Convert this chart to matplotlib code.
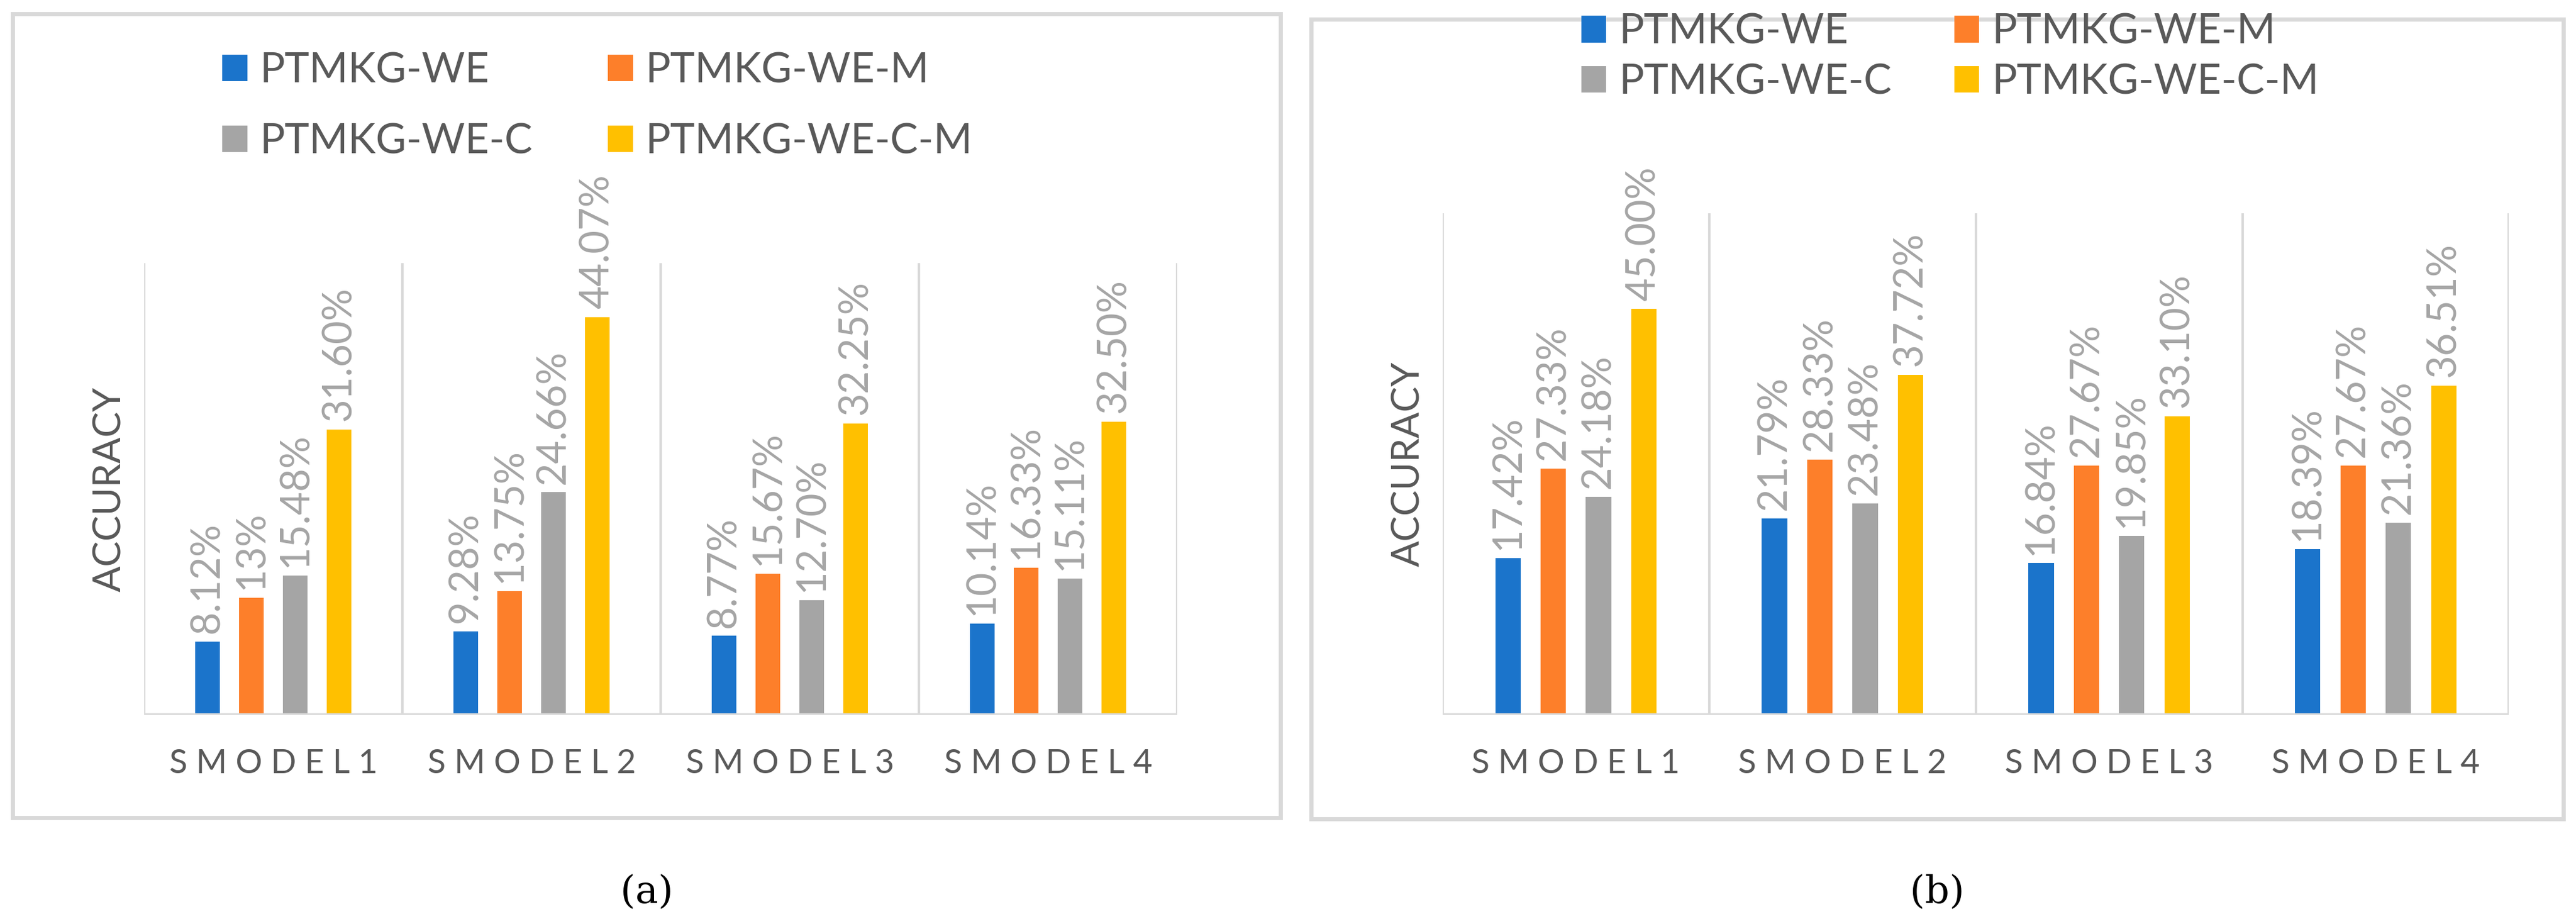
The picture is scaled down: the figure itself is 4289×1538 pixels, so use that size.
import matplotlib
matplotlib.use("Agg")
import matplotlib.pyplot as plt
import numpy as np
from matplotlib.patches import Rectangle

plt.rcParams["font.family"] = ["Lato", "DejaVu Sans"]

categories = ["SMODEL1", "SMODEL2", "SMODEL3", "SMODEL4"]
series = ["PTMKG-WE", "PTMKG-WE-M", "PTMKG-WE-C", "PTMKG-WE-C-M"]
vals_a = [
    [8.12, 9.28, 8.77, 10.14],
    [13.00, 13.75, 15.67, 16.33],
    [15.48, 24.66, 12.70, 15.11],
    [31.60, 44.07, 32.25, 32.50],
]
labels_a = [
    ["8.12%", "9.28%", "8.77%", "10.14%"],
    ["13%", "13.75%", "15.67%", "16.33%"],
    ["15.48%", "24.66%", "12.70%", "15.11%"],
    ["31.60%", "44.07%", "32.25%", "32.50%"],
]
vals_b = [
    [17.42, 21.79, 16.84, 18.39],
    [27.33, 28.33, 27.67, 27.67],
    [24.18, 23.48, 19.85, 21.36],
    [45.00, 37.72, 33.10, 36.51],
]
labels_b = [[f"{v:.2f}%" for v in row] for row in vals_b]

COLORS = ["#1B74CB", "#FD7F2A", "#A5A5A5", "#FFC000"]
LABEL_C = "#A5A5A5"
TEXT_C = "#595959"
GRID_C = "#D9D9D9"
OFFSETS = [-0.255, -0.085, 0.085, 0.255]


def spaced(s):
    return " ".join(s)


def panel(fig, rect, vals, labels, ymax, leg_xy, leg_spacing, col_spacing):
    ax = fig.add_axes(rect)
    x = np.arange(len(categories))
    handles = []
    for i, (row, lab) in enumerate(zip(vals, labels)):
        b = ax.bar(x + OFFSETS[i], row, width=0.095, color=COLORS[i], zorder=3)
        handles.append(b)
        for xi, v, t in zip(x + OFFSETS[i], row, lab):
            ax.annotate(t, (xi, v), xytext=(0, 10), textcoords="offset points",
                        rotation=90, ha="center", va="bottom",
                        fontsize=48, color=LABEL_C, annotation_clip=False)
    ax.set_xlim(-0.5, len(categories) - 0.5)
    ax.set_ylim(0, ymax)
    for b in np.arange(-0.5, len(categories), 1.0):
        ax.axvline(b, color=GRID_C, lw=3, zorder=1)
    ax.axhline(0, color=GRID_C, lw=4, zorder=4)
    for s in ax.spines.values():
        s.set_visible(False)
    ax.set_yticks([])
    ax.set_xticks(x)
    ax.set_xticklabels([spaced(c) for c in categories], fontsize=40, color=TEXT_C)
    ax.tick_params(axis="x", length=0, pad=40)
    ax.set_ylabel("ACCURACY", fontsize=46, color=TEXT_C, labelpad=20)
    # legend fills column-wise: reorder so rows read WE, WE-M / WE-C, WE-C-M
    order = [0, 2, 1, 3]
    fig.legend([handles[k] for k in order], [series[k] for k in order],
               loc="center", bbox_to_anchor=leg_xy, ncol=2,
               frameon=False, fontsize=50, labelcolor=TEXT_C,
               handlelength=0.6, handleheight=0.6, handletextpad=0.3,
               labelspacing=leg_spacing, columnspacing=col_spacing)
    return ax


fig = plt.figure(figsize=(42.89, 15.38), dpi=100)
fig.patch.set_facecolor("white")

# outer frames
fig.add_artist(Rectangle((0.005, 0.115), 0.492, 0.87, transform=fig.transFigure,
                         fill=False, ec=GRID_C, lw=5))
fig.add_artist(Rectangle((0.509, 0.114), 0.486, 0.865, transform=fig.transFigure,
                         fill=False, ec=GRID_C, lw=5))

panel(fig, [0.056, 0.226, 0.401, 0.489], vals_a, labels_a, 50,
      (0.232, 0.885), 0.8, 1.8)
panel(fig, [0.560, 0.226, 0.414, 0.543], vals_b, labels_b, 55.6,
      (0.757, 0.938), 0.3, 1.5)

fig.text(0.251, 0.034, "(a)", ha="center", va="center", fontsize=46,
         family="DejaVu Serif")
fig.text(0.752, 0.034, "(b)", ha="center", va="center", fontsize=46,
         family="DejaVu Serif")

fig.savefig("out.png", dpi=100, facecolor="white")
